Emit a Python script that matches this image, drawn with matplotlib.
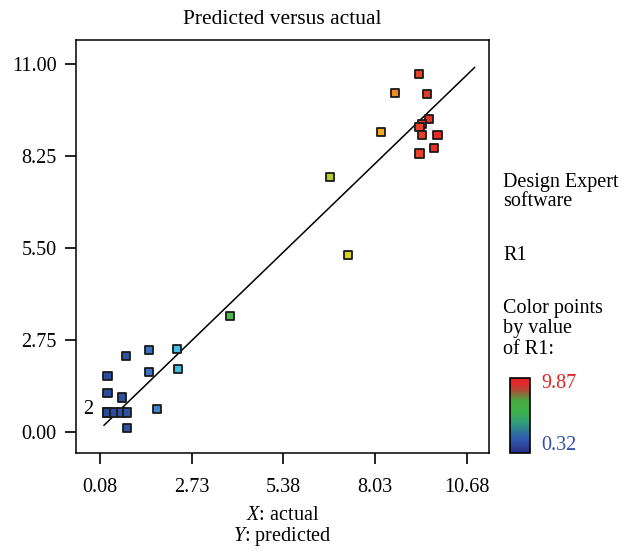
import numpy as np
import matplotlib
matplotlib.use("Agg")
import matplotlib.pyplot as plt
from matplotlib.colors import LinearSegmentedColormap, Normalize
from matplotlib.cm import ScalarMappable

plt.rcParams["font.family"] = ["Liberation Serif", "DejaVu Serif"]
plt.rcParams["mathtext.fontset"] = "custom"
plt.rcParams["mathtext.rm"] = "Liberation Serif"
plt.rcParams["mathtext.it"] = "Liberation Serif:italic"

# actual vs predicted R1
actual = [0.83, 1.49, 2.30, 0.30, 1.50, 2.33, 0.30, 0.71, 0.30, 0.30,
          0.49, 0.69, 0.86, 1.72, 0.86, 3.84, 6.73, 7.24, 8.20, 8.61,
          9.30, 9.52, 9.59, 9.38, 9.31, 9.38, 9.83, 9.74, 9.31]
predicted = [2.28, 2.45, 2.47, 1.68, 1.79, 1.88, 1.16, 1.03, 0.58, 0.58,
             0.58, 0.58, 0.58, 0.68, 0.12, 3.47, 7.63, 5.30, 8.97, 10.13,
             10.71, 10.11, 9.36, 9.20, 9.13, 8.87, 8.88, 8.49, 8.33]
r1_min, r1_max = 0.32, 9.87
fit_line = [0.20, 10.90]

x_ticks = [0.08, 2.73, 5.38, 8.03, 10.68]
y_ticks = [0.00, 2.75, 5.50, 8.25, 11.00]

point_cmap = LinearSegmentedColormap.from_list("pts", [
    (0.00, "#2c4a9c"), (0.07, "#2f55a6"), (0.12, "#3a72be"),
    (0.16, "#3d8fd4"), (0.21, "#3fc2e2"), (0.37, "#4cb84c"),
    (0.67, "#b4cc30"), (0.72, "#d8d424"), (0.83, "#f2a824"),
    (0.87, "#f08a22"), (0.94, "#e8402a"), (1.00, "#e62a26")])
bar_cmap = LinearSegmentedColormap.from_list("bar", [
    (0.00, "#2a3088"), (0.20, "#2f5cae"), (0.40, "#2f9c7c"),
    (0.55, "#3cb34a"), (0.70, "#4aa840"), (0.83, "#a8503a"),
    (0.92, "#e02a2a"), (1.00, "#e62424")])
norm = Normalize(r1_min, r1_max)

fs = 14.5

fig = plt.figure(figsize=(6.27, 5.5), dpi=100)
ax = fig.add_axes([0.1212, 0.1764, 0.6588, 0.7506])

ax.plot(fit_line, fit_line, color="black", lw=1.1, zorder=1)
ax.scatter(actual, predicted, c=actual, cmap=point_cmap, norm=norm,
           marker="s", s=34, edgecolors="#1a1a1a", linewidths=1.3, zorder=3)
ax.annotate("2", xy=(actual[8], predicted[8]), xytext=(-10, 2),
            textcoords="offset points", ha="right", va="center", fontsize=fs)

ax.set_xlim(-0.61, 11.32)
ax.set_ylim(-0.63, 11.72)
ax.set_xticks(x_ticks)
ax.set_xticklabels([f"{v:.2f}" for v in x_ticks])
ax.set_yticks(y_ticks)
ax.set_yticklabels([f"{v:.2f}" for v in y_ticks])
ax.tick_params(axis="both", direction="out", length=8, width=1.2,
               labelsize=fs)
ax.tick_params(axis="x", pad=10)
ax.tick_params(axis="y", pad=6)
for sp in ax.spines.values():
    sp.set_linewidth(1.1)

fig.text(0.45, 0.965, "Predicted versus actual", ha="center", va="center",
         fontsize=15.5)
fig.text(0.45, 0.062, "$X$: actual", ha="center", va="center", fontsize=fs)
fig.text(0.45, 0.025, "$Y$: predicted", ha="center", va="center", fontsize=fs)

side = [("Design Expert", 183), ("software", 201), ("R1", 256),
        ("Color points", 309), ("by value", 329), ("of R1:", 350)]
for txt, py in side:
    fig.text(503 / 627, 1 - py / 550, txt, ha="left", va="center",
             fontsize=fs)

cax = fig.add_axes([510 / 627, 1 - 453 / 550, 20 / 627, 75 / 550])
cb = fig.colorbar(ScalarMappable(norm=norm, cmap=bar_cmap), cax=cax)
cb.set_ticks([])
cb.outline.set_linewidth(1.2)
fig.text(541 / 627, 1 - 383 / 550, "9.87", color="#e02424", ha="left",
         va="center", fontsize=fs)
fig.text(541 / 627, 1 - 446 / 550, "0.32", color="#3050a8", ha="left",
         va="center", fontsize=fs)

fig.savefig("out.png", dpi=100)
